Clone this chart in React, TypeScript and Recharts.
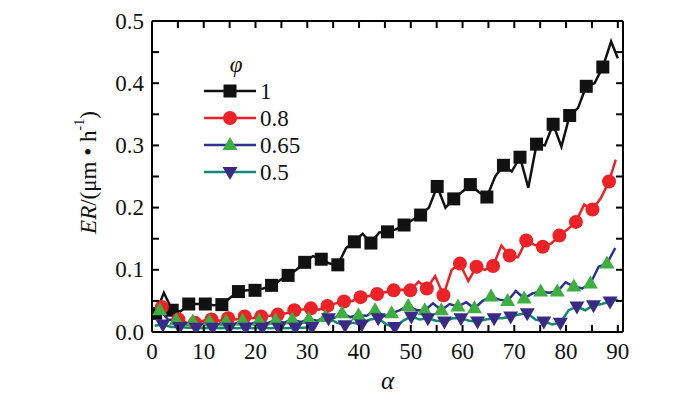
import React from 'react';
import { ComposedChart, Line, XAxis, YAxis } from 'recharts';

// erosion rate vs impact angle, one curve per phi
const ALPHA_1 = [0.7, 2.3, 3.9, 5.5, 7.1, 8.7, 10.3, 11.9, 13.5, 15.1, 16.7, 18.3, 19.9, 21.5, 23.1, 24.7, 26.3, 27.9, 29.5, 31.1, 32.7, 34.3, 35.9, 37.5, 39.1, 40.7, 42.3, 43.9, 45.5, 47.1, 48.7, 50.3, 51.9, 53.5, 55.1, 56.7, 58.3, 59.9, 61.5, 63.1, 64.7, 66.3, 67.9, 69.5, 71.1, 72.7, 74.3, 75.9, 77.5, 79.1, 80.7, 82.3, 83.9, 85.5, 87.1, 88.7, 90.0];
const ER_1 = [0.030, 0.063, 0.035, 0.033, 0.045, 0.045, 0.045, 0.043, 0.044, 0.055, 0.065, 0.067, 0.067, 0.070, 0.075, 0.083, 0.091, 0.100, 0.112, 0.122, 0.117, 0.110, 0.108, 0.135, 0.145, 0.158, 0.143, 0.160, 0.161, 0.165, 0.172, 0.180, 0.188, 0.200, 0.234, 0.200, 0.214, 0.225, 0.237, 0.225, 0.217, 0.250, 0.268, 0.258, 0.281, 0.232, 0.302, 0.300, 0.334, 0.298, 0.348, 0.360, 0.395, 0.400, 0.426, 0.467, 0.440];

const ALPHA_08 = [0.3, 1.9, 3.5, 5.1, 6.7, 8.3, 9.9, 11.5, 13.1, 14.7, 16.3, 17.9, 19.5, 21.1, 22.7, 24.3, 25.9, 27.5, 29.1, 30.7, 32.3, 33.9, 35.5, 37.1, 38.7, 40.3, 41.9, 43.5, 45.1, 46.7, 48.3, 49.9, 51.5, 53.1, 54.7, 56.3, 57.9, 59.5, 61.1, 62.7, 64.3, 65.9, 67.5, 69.1, 70.7, 72.3, 73.9, 75.5, 77.1, 78.7, 80.3, 81.9, 83.5, 85.1, 86.7, 88.3, 89.6];
const ER_08 = [0.030, 0.040, 0.030, 0.020, 0.015, 0.015, 0.018, 0.020, 0.018, 0.022, 0.020, 0.025, 0.022, 0.025, 0.026, 0.028, 0.030, 0.035, 0.036, 0.038, 0.036, 0.042, 0.046, 0.049, 0.050, 0.056, 0.058, 0.061, 0.064, 0.067, 0.068, 0.067, 0.081, 0.070, 0.090, 0.059, 0.100, 0.110, 0.082, 0.105, 0.100, 0.106, 0.139, 0.123, 0.120, 0.147, 0.140, 0.137, 0.142, 0.155, 0.165, 0.177, 0.205, 0.197, 0.215, 0.242, 0.277];

const ALPHA_065 = [0, 1.5, 3.1, 4.7, 6.3, 7.9, 9.5, 11.1, 12.7, 14.3, 15.9, 17.5, 19.1, 20.7, 22.3, 23.9, 25.5, 27.1, 28.7, 30.3, 31.9, 33.5, 35.1, 36.7, 38.3, 39.9, 41.5, 43.1, 44.7, 46.3, 47.9, 49.5, 51.1, 52.7, 54.3, 55.9, 57.5, 59.1, 60.7, 62.3, 63.9, 65.5, 67.1, 68.7, 70.3, 71.9, 73.5, 75.1, 76.7, 78.3, 79.9, 81.5, 83.1, 84.7, 86.3, 87.9, 89.5];
const ER_065 = [0.020, 0.035, 0.020, 0.019, 0.012, 0.017, 0.012, 0.017, 0.012, 0.017, 0.013, 0.018, 0.013, 0.018, 0.014, 0.019, 0.015, 0.020, 0.016, 0.021, 0.018, 0.024, 0.022, 0.030, 0.024, 0.027, 0.026, 0.035, 0.025, 0.030, 0.035, 0.042, 0.035, 0.035, 0.046, 0.035, 0.045, 0.041, 0.048, 0.038, 0.050, 0.057, 0.052, 0.050, 0.066, 0.054, 0.062, 0.065, 0.063, 0.065, 0.080, 0.073, 0.070, 0.078, 0.105, 0.110, 0.135];

const ALPHA_05 = [0.5, 2.1, 3.7, 5.3, 6.9, 8.5, 10.1, 11.7, 13.3, 14.9, 16.5, 18.1, 19.7, 21.3, 22.9, 24.5, 26.1, 27.7, 29.3, 30.9, 32.5, 34.1, 35.7, 37.3, 38.9, 40.5, 42.1, 43.7, 45.3, 46.9, 48.5, 50.1, 51.7, 53.3, 54.9, 56.5, 58.1, 59.7, 61.3, 62.9, 64.5, 66.1, 67.7, 69.3, 70.9, 72.5, 74.1, 75.7, 77.3, 78.9, 80.5, 82.1, 83.7, 85.3, 86.9, 88.5, 90.0];
const ER_05 = [0.010, 0.012, 0.008, 0.008, 0.007, 0.007, 0.006, 0.007, 0.006, 0.007, 0.006, 0.007, 0.006, 0.007, 0.006, 0.007, 0.006, 0.007, 0.007, 0.008, 0.020, 0.022, 0.015, 0.011, 0.015, 0.012, 0.020, 0.022, 0.012, 0.008, 0.018, 0.025, 0.020, 0.022, 0.018, 0.017, 0.022, 0.022, 0.018, 0.017, 0.020, 0.022, 0.022, 0.025, 0.028, 0.030, 0.020, 0.017, 0.012, 0.015, 0.035, 0.041, 0.035, 0.043, 0.045, 0.049, 0.052];

const PHI_LABELS = ['1', '0.8', '0.65', '0.5'];
const X_TICKS = [0, 5, 10, 15, 20, 25, 30, 35, 40, 45, 50, 55, 60, 65, 70, 75, 80, 85, 90];
const Y_TICKS = [0, 0.05, 0.1, 0.15, 0.2, 0.25, 0.3, 0.35, 0.4, 0.45, 0.5];
const X_MAX = 91;
const Y_MAX = 0.5;

const FONT = "'Liberation Serif', 'Times New Roman', serif";
const FS = 23;
const TICK_LEN = 7;

// chart box: margins + axis sizes give the plot area
const W = 700;
const H = 395;
const MARGIN = { top: 20, right: 76, bottom: 33, left: 92 };
const Y_AXIS_W = 60;
const X_AXIS_H = 30;
const PLOT = {
  left: MARGIN.left + Y_AXIS_W,
  top: MARGIN.top + 1,
  right: W - MARGIN.right - 1,
  bottom: H - MARGIN.bottom - X_AXIS_H,
};

const toRows = (xs: number[], ys: number[]) => xs.map((x, i) => ({ x, y: ys[i] }));

type Shape = 'square' | 'circle' | 'up' | 'down';

const SERIES = [
  { name: PHI_LABELS[0], data: toRows(ALPHA_1, ER_1), line: '#111111', fill: '#111111', shape: 'square' as Shape, phase: 0 },
  { name: PHI_LABELS[1], data: toRows(ALPHA_08, ER_08), line: '#ec2227', fill: '#ec2227', shape: 'circle' as Shape, phase: 1 },
  { name: PHI_LABELS[2], data: toRows(ALPHA_065, ER_065), line: '#2e3192', fill: '#3dae3f', shape: 'up' as Shape, phase: 1 },
  { name: PHI_LABELS[3], data: toRows(ALPHA_05, ER_05), line: '#0f8a73', fill: '#3a2a86', shape: 'down' as Shape, phase: 1 },
];

const txt = { fontFamily: FONT, fill: '#111' };
const frame = { stroke: '#000', strokeWidth: 2 };

const Marker = ({ shape, cx, cy, fill }: { shape: Shape; cx: number; cy: number; fill: string }) => {
  if (shape === 'square') return <rect x={cx - 6.5} y={cy - 6.5} width={13} height={13} fill={fill} />;
  if (shape === 'circle') return <circle cx={cx} cy={cy} r={7} fill={fill} />;
  if (shape === 'up') return <polygon points={`${cx},${cy - 8} ${cx - 7.5},${cy + 5} ${cx + 7.5},${cy + 5}`} fill={fill} />;
  return <polygon points={`${cx},${cy + 8} ${cx - 7.5},${cy - 5} ${cx + 7.5},${cy - 5}`} fill={fill} />;
};

// labels only on the major ticks
const BottomLabel = ({ x, y, payload }: any) =>
  payload.value % 10 === 0 ? (
    <text x={x} y={y + 27} textAnchor="middle" fontSize={FS} style={txt}>{payload.value}</text>
  ) : (
    <g />
  );

const LeftLabel = ({ x, y, payload }: any) =>
  Math.round(payload.value * 100) % 10 === 0 ? (
    <text x={x - 8} y={y + 7.5} textAnchor="end" fontSize={FS} style={txt}>{payload.value.toFixed(1)}</text>
  ) : (
    <g />
  );

const NoLabel = () => <g />;

const YTitle = ({ viewBox }: any) => {
  const cx = viewBox.x + viewBox.width - 64;
  const cy = viewBox.y + viewBox.height / 2 - 4;
  return (
    <text x={cx} y={cy} transform={`rotate(-90 ${cx} ${cy})`} textAnchor="middle" dominantBaseline="central" fontSize={23} style={txt}>
      <tspan fontStyle="italic">ER</tspan>
      <tspan>/(μm • h</tspan>
      <tspan fontSize={14} dy={-9}>-1</tspan>
      <tspan dy={9}>)</tspan>
    </text>
  );
};

const XTitle = ({ viewBox }: any) => (
  <text x={viewBox.x + viewBox.width / 2} y={viewBox.y + 57} textAnchor="middle" fontSize={25} fontStyle="italic" style={txt}>
    α
  </text>
);

// inward ticks on all four sides of the frame
const FrameTicks = () => {
  const px = (v: number) => PLOT.left + (v / X_MAX) * (PLOT.right - PLOT.left);
  const py = (v: number) => PLOT.bottom - (v / Y_MAX) * (PLOT.bottom - PLOT.top);
  return (
    <g stroke="#000" strokeWidth={2}>
      {X_TICKS.map((t) => (
        <g key={`x${t}`}>
          <line x1={px(t)} y1={PLOT.bottom} x2={px(t)} y2={PLOT.bottom - TICK_LEN} />
          <line x1={px(t)} y1={PLOT.top} x2={px(t)} y2={PLOT.top + TICK_LEN} />
        </g>
      ))}
      {Y_TICKS.map((v) => (
        <g key={`y${v}`}>
          <line x1={PLOT.left} y1={py(v)} x2={PLOT.left + TICK_LEN} y2={py(v)} />
          <line x1={PLOT.right} y1={py(v)} x2={PLOT.right - TICK_LEN} y2={py(v)} />
        </g>
      ))}
    </g>
  );
};

const Overlay = () => (
  <svg width={W} height={H} style={{ position: 'absolute', left: 0, top: 0, pointerEvents: 'none' }}>
    <FrameTicks />
    <text x={236} y={72} textAnchor="middle" fontSize={FS} fontStyle="italic" style={txt}>φ</text>
    {SERIES.map((s, i) => {
      const cy = 91 + i * 27;
      return (
        <g key={s.name}>
          <line x1={204} y1={cy} x2={256} y2={cy} stroke={s.line} strokeWidth={2.5} />
          <Marker shape={s.shape} cx={230} cy={cy} fill={s.fill} />
          <text x={260} y={cy + 8} fontSize={FS} style={txt}>{s.name}</text>
        </g>
      );
    })}
  </svg>
);

export default function App() {
  return (
    <div style={{ position: 'absolute', left: 0, top: 0, width: W, height: H, background: '#fff' }}>
      <ComposedChart width={W} height={H} margin={MARGIN}>
        <XAxis
          type="number"
          dataKey="x"
          domain={[0, X_MAX]}
          allowDataOverflow
          ticks={X_TICKS}
          interval={0}
          height={X_AXIS_H}
          tickSize={0}
          tickMargin={0}
          tickLine={false}
          tick={<BottomLabel />}
          axisLine={frame}
          label={<XTitle />}
        />
        <XAxis
          xAxisId="top"
          orientation="top"
          type="number"
          dataKey="x"
          domain={[0, X_MAX]}
          allowDataOverflow
          height={1}
          tickLine={false}
          tick={<NoLabel />}
          axisLine={frame}
        />
        <YAxis
          type="number"
          domain={[0, Y_MAX]}
          allowDataOverflow
          ticks={Y_TICKS}
          interval={0}
          width={Y_AXIS_W}
          tickSize={0}
          tickMargin={0}
          tickLine={false}
          tick={<LeftLabel />}
          axisLine={frame}
          label={<YTitle />}
        />
        <YAxis
          yAxisId="right"
          orientation="right"
          type="number"
          domain={[0, Y_MAX]}
          allowDataOverflow
          width={1}
          tickLine={false}
          tick={<NoLabel />}
          axisLine={frame}
        />
        {SERIES.map((s) => (
          <Line
            key={s.name}
            data={s.data}
            dataKey="y"
            name={s.name}
            type="linear"
            stroke={s.line}
            strokeWidth={2.5}
            isAnimationActive={false}
            activeDot={false}
            dot={(p: any) => {
              const last = p.index === s.data.length - 1;
              if (p.index % 2 !== s.phase || last || p.cx == null) return <g key={`d-${s.name}-${p.index}`} />;
              return <Marker key={`d-${s.name}-${p.index}`} shape={s.shape} cx={p.cx} cy={p.cy} fill={s.fill} />;
            }}
          />
        ))}
      </ComposedChart>
      <Overlay />
    </div>
  );
}
